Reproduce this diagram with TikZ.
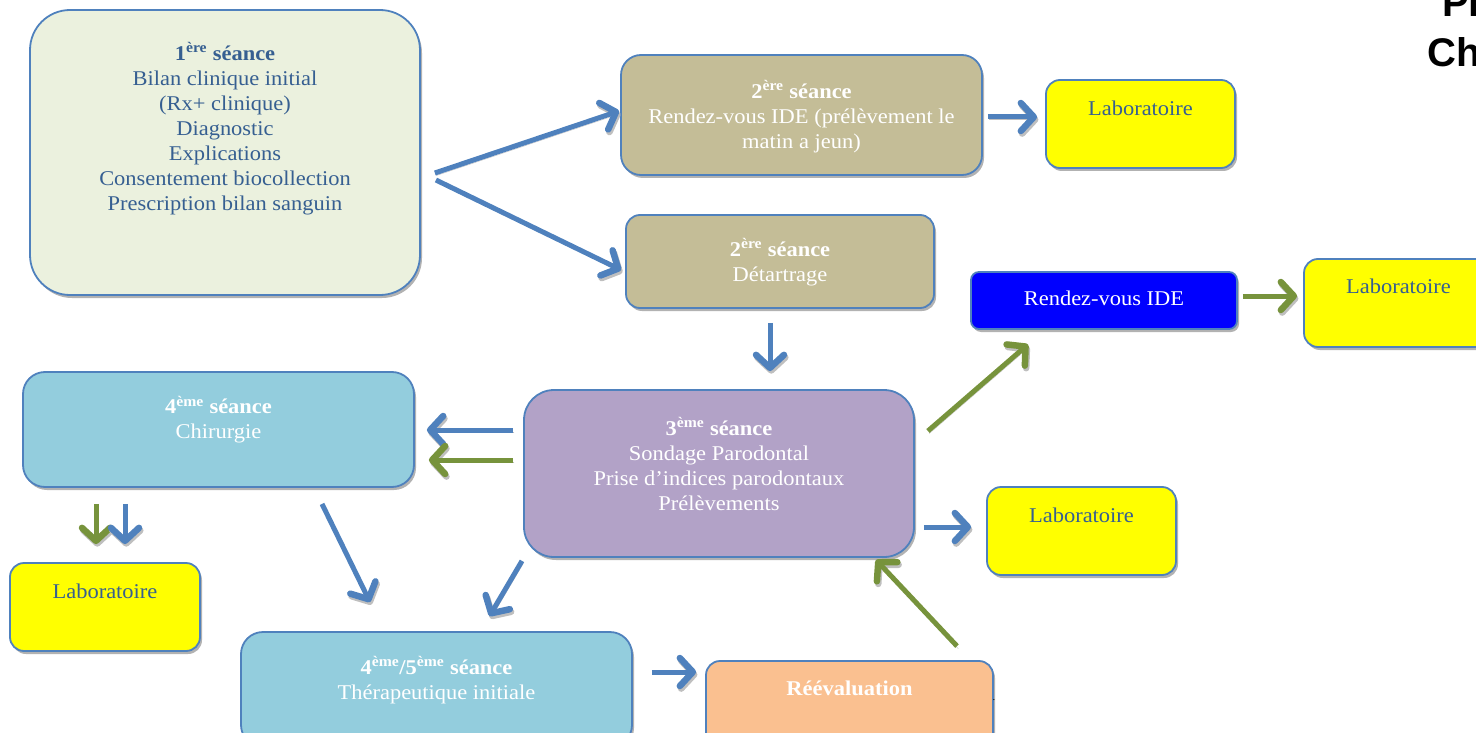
\documentclass[tikz,border=0pt]{standalone}
\usepackage{fontspec}
\setmainfont[FakeStretch=1.07]{Liberation Serif}
\newfontfamily\headfont{Liberation Sans}
\usetikzlibrary{arrows.meta,shadows}

\definecolor{edgeblue}{HTML}{4F81BD}
\definecolor{arrowgreen}{HTML}{77933C}
\definecolor{textblue}{HTML}{365F91}
\definecolor{paleolive}{HTML}{EBF1DE}
\definecolor{khaki}{HTML}{C4BD97}
\definecolor{labyellow}{HTML}{FFFF00}
\definecolor{rdvblue}{HTML}{0000FF}
\definecolor{skyblue}{HTML}{93CDDD}
\definecolor{lilac}{HTML}{B2A2C7}
\definecolor{peach}{HTML}{FAC090}

\begin{document}
\begin{tikzpicture}[x=1pt,y=-1pt,
  box/.style={draw=edgeblue, line width=1.8pt, rounded corners=#1, inner sep=0pt,
    drop shadow={shadow xshift=2pt, shadow yshift=-3pt, fill=black, opacity=0.3}},
  box/.default=14pt,
  lab/.style={box, fill=labyellow, minimum width=189pt, minimum height=88pt},
  txt/.style={anchor=north, inner sep=0pt, align=center,
    font=\fontsize{21}{25}\selectfont, execute at begin node={\strut}},
  shade/.style={draw=black!25, transform canvas={xshift=1.3pt, yshift=-2.6pt}},
  arrb/.style={line width=5pt, draw=edgeblue, preaction={shade},
    -{Straight Barb[length=13pt, width=28pt, line width=6.5pt, round]}},
  arrg/.style={arrb, draw=arrowgreen},
]
\useasboundingbox (0,0) rectangle (1476,733);
\clip (0,0) rectangle (1476,733);

% boxes
\node[box=40pt, fill=paleolive, minimum width=390pt, minimum height=285pt] (s1) at (225,152.5) {};
\node[box=20pt, fill=khaki, minimum width=361pt, minimum height=120pt] (s2a) at (801.5,115) {};
\node[lab] (lab1) at (1140.5,124) {};
\node[box=14pt, fill=khaki, minimum width=308pt, minimum height=93pt] (s2b) at (780,261.5) {};
\node[box=8pt, fill=rdvblue, minimum width=266pt, minimum height=57pt] (rdv) at (1104,300.5) {};
\node[lab] (lab2) at (1398.5,303) {};
\node[box=22pt, fill=skyblue, minimum width=391pt, minimum height=115pt] (s4) at (218.5,429.5) {};
\node[box=30pt, fill=lilac, minimum width=390pt, minimum height=167pt] (s3) at (719,473.5) {};
\node[lab] (lab3) at (1081.5,531) {};
\node[lab, minimum width=190pt] (lab4) at (105,607) {};
\node[box=22pt, fill=skyblue, minimum width=391pt, minimum height=115pt] (s45) at (436.5,689.5) {};
\node[box=14pt, fill=peach, minimum width=287pt, minimum height=88pt] (reev) at (849.5,705) {};

% box texts
\node[txt, text=textblue] (t1) at (225,42.5) {\textbf{1\textsuperscript{ère} séance}\\Bilan clinique initial\\(Rx+ clinique)\\Diagnostic\\Explications\\Consentement biocollection\\Prescription bilan sanguin};
\node[txt, text=white] (t2a) at (801.5,80.5) {\textbf{2\textsuperscript{ère} séance}\\Rendez-vous IDE (prélèvement le\\matin a jeun)};
\node[txt, text=textblue] (tl1) at (1140.5,97.5) {Laboratoire};
\node[txt, text=white] (t2b) at (780,238.5) {\textbf{2\textsuperscript{ère} séance}\\Détartrage};
\node[txt, text=white] (trdv) at (1104,287.5) {Rendez-vous IDE};
\node[txt, text=textblue] (tl2) at (1398.5,275.5) {Laboratoire};
\node[txt, text=white] (t4) at (218.5,396) {\textbf{4\textsuperscript{ème} séance}\\Chirurgie};
\node[txt, text=white] (t3) at (719,417.5) {\textbf{3\textsuperscript{ème} séance}\\Sondage Parodontal\\Prise d’indices parodontaux\\Prélèvements};
\node[txt, text=textblue] (tl3) at (1081.5,504.5) {Laboratoire};
\node[txt, text=textblue] (tl4) at (105,580.5) {Laboratoire};
\node[txt, text=white] (t45) at (436.5,656.5) {\textbf{4\textsuperscript{ème}/5\textsuperscript{ème} séance}\\Thérapeutique initiale};
\node[txt, text=white] (tre) at (849.5,677.5) {\textbf{Réévaluation}};
\node[inner sep=0pt, font=\fontsize{10}{10}\selectfont] (dot) at (994,700) {.};

% heading fragments at the right edge
\node[anchor=base west, inner sep=0pt, font=\headfont\bfseries\fontsize{40}{40}\selectfont] (hpr) at (1442,17) {Pr};
\node[anchor=base west, inner sep=0pt, font=\headfont\bfseries\fontsize{40}{40}\selectfont] (hch) at (1427,67) {Ch};

% connectors
\draw[arrb] ([shift={(14,20.5)}]s1.east) -- ([shift={(-1,-4)}]s2a.west);
\draw[arrb] ([shift={(15,27.5)}]s1.east) -- ([shift={(-4,8.5)}]s2b.west);
\draw[arrb] ([shift={(5,2)}]s2a.east) -- ([shift={(-8,-7)}]lab1.west);
\draw[arrb] ([shift={(-10,14)}]s2b.south) -- ([shift={(51,-18)}]s3.north);
\draw[arrg] ([shift={(5,-4.5)}]rdv.east) -- ([shift={(-6,-7)}]lab2.west);
\draw[arrg] ([shift={(13,-42.5)}]s3.east) -- ([shift={(-76,14.5)}]rdv.south);
\draw[arrb] ([shift={(-10,-43.5)}]s3.west) -- ([shift={(12,0.5)}]s4.east);
\draw[arrg] ([shift={(-10,-13.5)}]s3.west) -- ([shift={(14,30.5)}]s4.east);
\draw[arrb] ([shift={(9,53.5)}]s3.east) -- ([shift={(-15,-4)}]lab3.west);
\draw[arrg] ([shift={(107.5,-14)}]reev.north) -- ([shift={(157,2)}]s3.south);
\draw[arrb] ([shift={(-197,3)}]s3.south) -- ([shift={(53,-15)}]s45.north);
\draw[arrg] ([shift={(-122.5,16)}]s4.south) -- ([shift={(-9,-18)}]lab4.north);
\draw[arrb] ([shift={(-93.5,16)}]s4.south) -- ([shift={(20,-18)}]lab4.north);
\draw[arrb] ([shift={(103.5,16)}]s4.south) -- ([shift={(-66.5,-29)}]s45.north);
\draw[arrb] ([shift={(19,-17.5)}]s45.east) -- ([shift={(-9,-33)}]reev.west);
\end{tikzpicture}
\end{document}
